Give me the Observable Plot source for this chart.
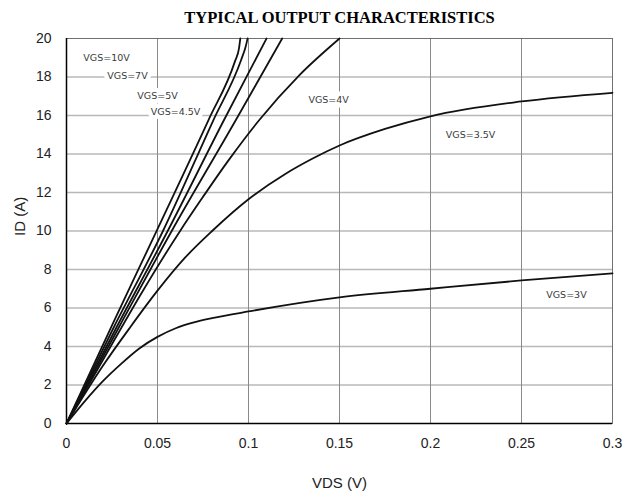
<!DOCTYPE html>
<html>
<head>
<meta charset="utf-8">
<script src="https://cdn.jsdelivr.net/npm/d3@7"></script>
<script src="https://cdn.jsdelivr.net/npm/@observablehq/plot@0.6"></script>
<style>
  html, body { margin: 0; padding: 0; background: #fff; }
</style>
</head>
<body>
<div id="chart"></div>
<script>
const title = "TYPICAL OUTPUT CHARACTERISTICS";
const xLabel = "VDS (V)";
const yLabel = "ID (A)";
const xTicks = [0, 0.05, 0.1, 0.15, 0.2, 0.25, 0.3];
const yTicks = [0, 2, 4, 6, 8, 10, 12, 14, 16, 18, 20];

// Curves (VDS in V, ID in A)
const vds10 = [0, 0.025, 0.0505, 0.0782, 0.0925, 0.0948, 0.0955];
const id10  = [0, 5.1, 10.2, 15.8, 18.8, 19.5, 20];
const vds7  = [0, 0.026, 0.053, 0.0806, 0.096, 0.0985, 0.0995];
const id7   = [0, 5.0, 10, 15.74, 18.9, 19.6, 20];
const vds5  = [0, 0.0275, 0.0556, 0.0864, 0.1099];
const id5   = [0, 5.0, 10, 15.74, 20];
const vds45 = [0, 0.0288, 0.0578, 0.0929, 0.1185];
const id45  = [0, 5.0, 10, 15.74, 20];
const vds4  = [0, 0.02, 0.042, 0.0626, 0.0736, 0.09, 0.1057, 0.128, 0.15];
const id4   = [0, 3.3, 6.9, 10.03, 11.58, 13.8, 15.74, 18.1, 20];
const vds35 = [0, 0.02, 0.035, 0.05, 0.065, 0.08, 0.1, 0.12, 0.135, 0.15, 0.175, 0.2, 0.25, 0.3];
const id35  = [0, 3.0, 5.0, 6.9, 8.6, 10.0, 11.65, 12.95, 13.75, 14.44, 15.3, 15.96, 16.73, 17.18];
const vds3  = [0, 0.01, 0.02, 0.03, 0.04, 0.05, 0.06, 0.07, 0.08, 0.1, 0.15, 0.2, 0.25, 0.3];
const id3   = [0, 1.15, 2.2, 3.1, 3.9, 4.5, 4.95, 5.25, 5.47, 5.82, 6.55, 7.0, 7.43, 7.8];

const seriesNames = ["VGS=10V", "VGS=7V", "VGS=5V", "VGS=4.5V", "VGS=4V", "VGS=3.5V", "VGS=3V"];
const seriesX = [vds10, vds7, vds5, vds45, vds4, vds35, vds3];
const seriesY = [id10, id7, id5, id45, id4, id35, id3];

// Curve labels (data coordinates)
const labelText = ["VGS=10V", "VGS=7V", "VGS=5V", "VGS=4.5V", "VGS=4V", "VGS=3.5V", "VGS=3V"];
const labelX = [0.022, 0.0335, 0.050, 0.0599, 0.144, 0.222, 0.2747];
const labelY = [19.0, 18.08, 17.0, 16.16, 16.83, 15.01, 6.7];

const rows = [];
seriesNames.forEach((name, i) => {
  seriesX[i].forEach((v, j) => rows.push({series: name, vds: v, id: seriesY[i][j]}));
});
const labels = labelText.map((t, i) => ({text: t, x: labelX[i], y: labelY[i]}));

const chart = Plot.plot({
  width: 625,
  height: 499,
  marginLeft: 66,
  marginRight: 13,
  marginTop: 38,
  marginBottom: 76,
  style: {fontFamily: "'Liberation Sans', Arial, sans-serif", fontSize: "14px", color: "#222", background: "#fff"},
  x: {domain: [0, 0.3]},
  y: {domain: [0, 20]},
  marks: [
    Plot.gridY(yTicks.filter(d => d > 0 && d < 20), {stroke: "#b8b8b8", strokeOpacity: 1, strokeWidth: 1.5}),
    Plot.gridX(xTicks.filter(d => d > 0 && d < 0.3), {stroke: "#8a8a8a", strokeOpacity: 1, strokeWidth: 1}),
    Plot.frame({stroke: "#707070", strokeWidth: 1}),
    Plot.ruleX([0], {stroke: "#000", strokeWidth: 1.5}),
    Plot.ruleY([0], {stroke: "#000", strokeWidth: 1.5}),
    Plot.axisX({ticks: xTicks, tickSize: 0, tickPadding: 15, label: null, fontSize: 14, tickFormat: d => String(d)}),
    Plot.axisY({ticks: yTicks, tickSize: 0, tickPadding: 15, label: null, fontSize: 14, tickFormat: d => String(d)}),
    Plot.text(labels, {x: "x", y: "y", text: "text", fontSize: 9.5, fontFamily: "'DejaVu Sans', sans-serif",
      fill: "#3a3a3a", stroke: "#fff", strokeWidth: 9, textAnchor: "middle"}),
    Plot.line(rows, {x: "vds", y: "id", z: "series", stroke: "#111", strokeWidth: 1.8, curve: "monotone-x"}),
    Plot.text([title], {frameAnchor: "top", dy: -27, fontSize: 16.5, fontWeight: "bold",
      fontFamily: "'Liberation Serif', 'Times New Roman', serif", fill: "#000"}),
    Plot.text([xLabel], {frameAnchor: "bottom", dy: 64, fontSize: 15, fill: "#222"}),
    Plot.text([yLabel], {frameAnchor: "left", dx: -46, dy: 5, rotate: -90, fontSize: 15, fill: "#222"})
  ]
});
document.getElementById("chart").appendChild(chart);
</script>
</body>
</html>
